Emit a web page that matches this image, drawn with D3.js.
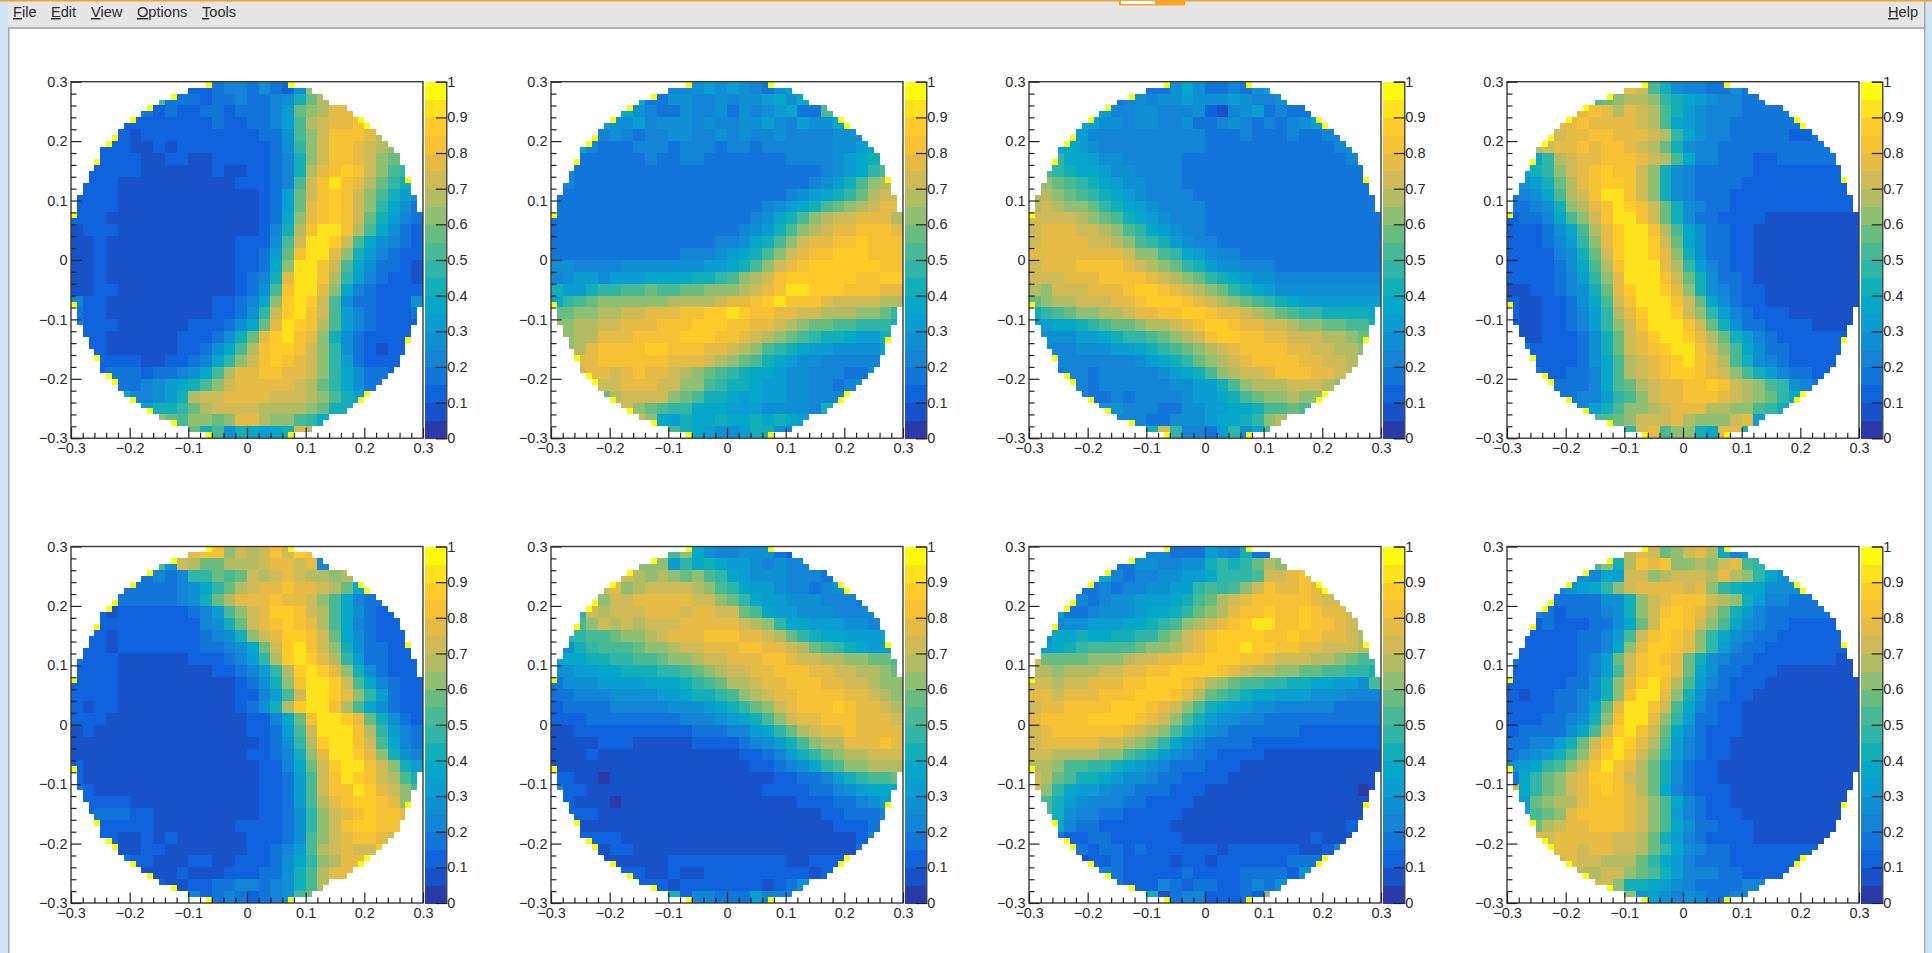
<!DOCTYPE html>
<html><head><meta charset="utf-8">
<style>
html,body{margin:0;padding:0;background:#fff;overflow:hidden}
svg{display:block}
text{font-family:"Liberation Sans",Arial,sans-serif;fill:#2a2a2a}
</style>
<script src="https://cdnjs.cloudflare.com/ajax/libs/d3/7.8.5/d3.min.js"></script>
</head><body><svg id="c" width="1932" height="953"></svg>
<script>
// Levels: one base-20 digit per 2x2 block of bins (0 = 0-0.05 ... j = 0.95-1), top row first.
const panel1=["2234435325c","a333233433458bd","3232233233346bcdff","222222223223346adeffge","2212222222222335acegggfd","222112122222222359ceggfedc","222211221122222348ceggfecb","2222211111121122348dfghgeca9","222111111111122234aegigfdb98","2222111111111111236begh geca865".replace(" ",""),"222211111111111123 6bfghgec9753".replace(" ",""),"2221111111111111237cfghgeb8643","1222111111111111248dgiigda7532","112111111111112225aeiihea75432","112111111111112236bgiifc864322","112111111111112237ciigea753321","112111111111112348fiigd9643221","112211111111112 35agiifc7432222".replace(" ",""),"42211111111122347chihea5332225","32211111111122359ehigea6432223","4222111111222357bfihgda6432222","22111111222358bfhigfc8532222","2211111122357adghhgec9532122","222211223479ceghgfec963222","2333233457adffggffec975332","43345678acefffffedb97533","744568deeffffeeedca863","6889bdeeeeddddcb88","cbaccbcffdcca97","b8a587678ed"];
const panel2=["44565654356","733554454556757","75433544535456733a","6556455545445565465577","345434455445454454444555","74333444344434434444445567","33333343344333333344445678","433333333333333333333345679a","4333333333333333333334568acd","33333333333333333333456789bdee","33333333333333333345678abcdeff","333333333333333334578acdeefffd","33333333333333334568acdeffgggf","3333333333333344578aceffgghggg","333333333334445678acefgghhhggg","55444455555556678acefghhhhhhgg","456656667777889acdeghhhhhhgghh","866899aabaabbcccdefgiihhhgggff","79abccccccddddeffghigggfeeeedd","bbccddeefffgghhihggffeedddccb9","ccddeefffggghhhggffedcbbaa9998","cddfffgggghhhggfedcba9887668","cdfgggghhgggffedca9876655556","ffggggggfffedcba8765544444","effefgffedcba9877655444335","deefffeecca9887665544345","bdeeeecba8876766554445","ecba99777666555548","ec7687787787876","a8765568854"];
const panel3=["33575334356","345455655565445","644554445214563433","7655455445334543434564","664444444444333433343344","77654444444443333333333345","97765544444333333333333334","a98776554444333333333333333","cba9876554443333333333333333","ddcba9876544443333333333333333","dedccb987654444333333333333333","eeeedcba8765444333333333333333","efffeedca976544333333333333333","effffeedca98654433333333333333","ffffffffecca976544333333333333","efffggggfedcb98655444333333333","eeefffggggfedcb987655444444444","dceeefffghhgfedcb9876555555555","bcddeeeffghhhgfedcba9876666666","89abccddeffgghhgffedcba9988887","667789abbcddefghhgffeedccbbaa8","555667899abcdeghhggffeeeddcb","54455566789abcdefggggffeeddc","444444456789bcdefggggffeed","3443444445678acdeefgggffed","64344444455668acdddeeedc","43343444456678abccdcca","55444335566778aaba","4443355567789cd","8e94436957a"];
const panel4=["fea85443353","abcddc987654433","fgfdfeda8654443333","ffgffffeda765443333333","eeffggfffed9754433333223","deffgfggfedb85443333333333","79deffgggfeda7443332233333","789cefghggec8543333322222222","568bdfghhgec8543333222222222","3457adegiigec85433322222222222","33458cdfgihgeb8543322222222222","23347acegiigeb8533222211111111","222357adfhiigda753322111111111","2223469cfhiiheb753322111111111","2222458behiihfc853322111111111","2222357adgiiifd964322111111111","22223469cfiiigeb85332111111111","11223458bfhiihfc85432211111111","21122357aegiiigeb7532211111111","211223469dfhiihec9643222111111","211223469cegiiigeb853322221111","11222358befhiihfdb8643222222","32222358befghiigeca753322222","2222357adefghigfda85432222","3223347adefghhgfeca8643322","333347abdeffgghgedca9543","334469aceffgggfedcb975","468accdefffddcca98","aabceeefdcccef6","9efacc87ff8"];
const panel5=["fggcedegehg","a5edbbdddeffef4","343499babedefeddcd","333334579bdeffgffedb74","333333458bdfffgffeca7433","21222222346acefhhgeda75322","222222222458befghgfda74322","22122222223458cefhhgeb753222","221222222233457behigec853322","32221111112223469dhihfd9633222","222211111111223469dhihfc853222","222211111111112358cgiihea74322","222211111111112246aeiihfc96322","212211111111112358dhiigda7532 2".replace(" ",""),"2221111111111112247bgiihfb8532","1211111111111112236aeiiigd9643","11111111111111112359dhiigea743","11111111111111122348cfiihfc854","21111111111111112247behiigec86","21111111111111112236aegihgeda8","32111111111111112236aeggihfeca","2222111111111112236adfghhgfc","23332211111111122359cefghggf","2222211111112222359ceghhgg","221121211111122235acefggfe","21122111111122346adefeeh","32211122112223579cdffg","11121112223358adff","2112233443458ad","423432345ab"];
const panel6=["ac754455532","ccc697876654544","edcdcbca9765554443","efcdeeeedca97665443455","9ceefffffeecb97665554443","9edeeefffeffeeba7665554444","acededeeefffffedc977666554","99aabccdefffgggffedb98776666","589aaabccdeefffggffedba98766","7778899aabccdeefffggfeeddccbba","55667788899abcdeeffgggffeeddcb","3555666677789abddeffgggffeedcc","334445555667889acdeffggggffedc","23333444445556789bcefggghgffed","222333333334445678aceffgggfffe","11222222222233344679bdeffgffff","111122211111222234568acddfffgf","111211111111111122 34689bcddeee".replace(" ",""),"111111111111111112234579accddd","221101111111111111122334689aabc".slice(0,30),"522111111111111111222233456777","2111011111111111111122233456","2221111111111111111111223334","11111111111111111111112223","22221111111111111111111124","212211111111111111111113","1111112222222222112222","221121122222222212","222122222221235","82443336444"];
const panel7=["44333654833","335544558989bdc","7434455667999aeefg","33434455669a9acegffgfe","44345566678abdefgggggfee","633455567789bcdfgghgghgffe","4556667789acdefghiigghggfe","5778778899bcefghhhhgghggffed","6789aaaabccdefghhihhggffeeed","ebbbbcccdeeffgghhhggfeeeddcbaa","ddcdddeeffgghhhhgfeddccbbaa998","eedeefffgghhhgfdcbaa998877665a","ffefffggghhhgfdba9877666555444","effgggghhhgfeca876655444443333","fgggghhhhgfeca8655443333333333","efggggggfedca86543333332222222","efffffeedcb9754333322222222222","eeddddcca98654332222111111111 1".replace(" ",""),"ddcaa9987654333222111111111111","edba8876554332222111111111111 1".replace(" ","").slice(0,30),"fc976654433322211111111111 1101".replace(" ","").slice(0,30),"a865444332222111111111111111","a854433222221111111111111111","74332222221111111111111112","32233222222111111111112111","232332322222212222221124","1223222212212222223332","432222232222333325","322243233223435","8134422232c"];
const panel8=["dfebcefd745","ac8dgfgccdcefa9","5476eecdeeedfdc975","45679ceffffefc9877555a","33333558cefgggedc8644333","432333458ceghgfdb864333333","232223357behhgeca754332222","222223346aeghgfc975433222222","222223347cfhhgfc964332222222","322222346beghgfb85433222222211","222222346aeghhfb75332221111111","222223358cfhigda64322211111111","212233458cgiifc853322111111111","22223347bfiigea743221111111111","22233458cgiifc9633221111111111","2333357aehigeb7532221111111111","334468begihfda6432211111111111","34568acfhigec96432211111111111","5679acegigfdb85322111111111111","379bcefhhgedb85322111111111111","e79bcefghgfdb74322211111111111","6bcddfgggfeca743221111111111","6abcfggggfeca643222111111111","bdeffgggfeca75332221111111","fefffffeedb864322221111111","gffeffeedb97543322222222","efeedddb97643332222222","ddeecba86444332222","eec887654333344","c5654543344"];
const panels=[panel1,panel2,panel3,panel4,panel5,panel6,panel7,panel8];

// Which bins of each row are filled (top half; the lower half mirrors it)
const rowFirstBin=[23,20,17,15,13,12,10,9,8,7,6,5,5,4,4,3,3,2,2,1,1,1,0,0,0,0,0,0,0,0];
const rowLastBin=[37,40,42,43,46,47,49,50,51,52,53,54,55,55,56,56,57,57,57,58,58,58,59,59,59,59,59,59,59,59];
// Rim bins that read as full yellow in every panel: [row from top, bin]
const rimBins=[[0,23],[0,37],[2,17],[4,13],[6,10],[9,7],[10,6],[13,4],[22,0],[6,49],[7,50],[16,57]];

const axisMajor=[-0.3,-0.2,-0.1,0,0.1,0.2,0.3];
const axisMinor=[-0.28,-0.26,-0.24,-0.22,-0.18,-0.16,-0.14,-0.12,-0.08,-0.06,-0.04,-0.02,0.02,0.04,0.06,0.08,0.12,0.14,0.16,0.18,0.22,0.24,0.26,0.28];
const zTicks=[0,0.1,0.2,0.3,0.4,0.5,0.6,0.7,0.8,0.9,1];
const menuLeft=[["File",13],["Edit",51],["View",91],["Options",137],["Tools",202],["Help",1888]];
// Colour of each of the 20 palette levels, bottom to top
const levelColor=["#2a3aa8","#1752c8","#0f63dc","#1275da","#1384d6","#1090d4","#0a9ed2","#05a8c9","#12afb8","#2fb6a6","#47b995","#68bc80","#8fbf72","#b3bc63","#cfba58","#e6bb45","#f5c233","#fecb28","#fde21c","#fbfb0a"];

const W=352,H=356.5,colsX=[71,551,1029,1507],rowsY=[81.7,546.5],nBins=60,nLevels=levelColor.length;
const svg=d3.select("#c");
const rowOf=r=>r<30?r:59-r;
const firstOf=r=>rowFirstBin[rowOf(r)],lastOf=r=>rowLastBin[rowOf(r)];
const rimSet=new Set(rimBins.flatMap(([r,c])=>[r+"_"+c,(59-r)+"_"+c]));

// window chrome
svg.append("rect").attr("width",1932).attr("height",953).attr("fill","#cfe4f2");
svg.append("rect").attr("x",8).attr("y",1).attr("width",1916).attr("height",952).attr("fill","#fff");
svg.append("rect").attr("x",8).attr("y",1).attr("width",1916).attr("height",26).attr("fill","#e6e6e6");
svg.append("rect").attr("x",8).attr("y",27).attr("width",1916).attr("height",2).attr("fill","#b4b4b4");
svg.append("rect").attr("x",8).attr("y",27).attr("width",1.5).attr("height",926).attr("fill","#a8a8a8");
svg.append("rect").attr("x",1924).attr("y",0).attr("width",1.5).attr("height",953).attr("fill","#a8a8a8");
svg.append("rect").attr("width",1932).attr("height",1.5).attr("fill","#f0a030");
svg.append("rect").attr("x",1119).attr("width",66).attr("height",5.5).attr("fill","#f9a52b");
svg.append("rect").attr("x",1121).attr("y",1).attr("width",34).attr("height",3).attr("fill","#fff");
const menu=svg.append("g").selectAll("text").data(menuLeft).join("text")
  .attr("x",d=>d[1]).attr("y",17).style("font-size","14.6px");
menu.append("tspan").attr("text-decoration","underline").text(d=>d[0][0]);
menu.append("tspan").text(d=>d[0].slice(1));

const tickFmt=d=>d===0?"0":(d===1?"1":d3.format(".1f")(d));

panels.forEach((rows,pi)=>{
  const px=colsX[pi%4],py=rowsY[Math.floor(pi/4)];
  const g=svg.append("g").attr("transform",`translate(${px},${py})`);
  const x=d3.scaleLinear().domain([-0.3,0.3]).range([0,W]);
  const y=d3.scaleLinear().domain([-0.3,0.3]).range([H,0]);
  const bx=d3.scaleLinear().domain([0,nBins]).range([0,W]);
  const by=d3.scaleLinear().domain([0,nBins]).range([0,H]);
  const cells=[];
  for(let r=0;r<nBins;r++){
    const R=Math.floor(r/2),s=rows[R];
    const blockFirst=Math.floor(Math.min(firstOf(2*R),firstOf(2*R+1))/2);
    for(let c=firstOf(r);c<=lastOf(r);c++){
      const i=Math.min(Math.floor(c/2)-blockFirst,s.length-1);
      const lvl=rimSet.has(r+"_"+c)?nLevels-1:parseInt(s[i],20);
      cells.push({r,c,lvl});
    }
  }
  g.append("g").attr("shape-rendering","crispEdges").selectAll("rect").data(cells).join("rect")
    .attr("x",d=>Math.round(px+bx(d.c))-px).attr("y",d=>Math.round(py+by(d.r))-py)
    .attr("width",d=>Math.round(px+bx(d.c+1))-Math.round(px+bx(d.c)))
    .attr("height",d=>Math.round(py+by(d.r+1))-Math.round(py+by(d.r)))
    .attr("fill",d=>levelColor[d.lvl]);
  g.append("rect").attr("width",W).attr("height",H).attr("fill","none").attr("stroke","#3a3a3a").attr("stroke-width",1.4);

  const style=a=>{a.select(".domain").remove();a.selectAll("line").attr("stroke","#222").attr("stroke-width",1.2);};
  // major + minor ticks run inward from the bottom and left frame edges
  g.append("g").attr("transform",`translate(0,${H})`).call(d3.axisTop(x).tickValues(axisMajor).tickSize(10.5).tickFormat("")).call(style);
  g.append("g").attr("transform",`translate(0,${H})`).call(d3.axisTop(x).tickValues(axisMinor).tickSize(5.5).tickFormat("")).call(style);
  g.append("g").call(d3.axisRight(y).tickValues(axisMajor).tickSize(10.5).tickFormat("")).call(style);
  g.append("g").call(d3.axisRight(y).tickValues(axisMinor).tickSize(5.5).tickFormat("")).call(style);
  const xl=g.append("g").attr("transform",`translate(0,${H})`).call(d3.axisBottom(x).tickValues(axisMajor).tickSize(0).tickPadding(5).tickFormat(tickFmt));
  xl.select(".domain").remove(); xl.selectAll("text").style("font-size","14.5px").attr("fill","#2a2a2a").style("font-family",'"Liberation Sans",sans-serif');
  const yl=g.append("g").call(d3.axisLeft(y).tickValues(axisMajor).tickSize(0).tickPadding(3.5).tickFormat(tickFmt));
  yl.select(".domain").remove(); yl.selectAll("text").style("font-size","14.5px").attr("fill","#2a2a2a").style("font-family",'"Liberation Sans",sans-serif');

  // palette
  const zx=W+1.8,zw=21.5;
  const z=d3.scaleLinear().domain([0,1]).range([H,0]);
  g.append("g").attr("shape-rendering","crispEdges").selectAll("rect").data(levelColor).join("rect")
    .attr("x",zx).attr("width",zw).attr("y",(d,i)=>z((i+1)/nLevels)).attr("height",H/nLevels+0.5).attr("fill",d=>d);
  const za=g.append("g").attr("transform",`translate(${zx+zw},0)`).call(d3.axisLeft(z).tickValues(zTicks).tickSize(10.5).tickFormat(""));
  za.select(".domain").attr("stroke","#222").attr("stroke-width",1.2); za.selectAll("line").attr("stroke","#222").attr("stroke-width",1.2);
  const zl=g.append("g").attr("transform",`translate(${zx+zw},0)`).call(d3.axisRight(z).tickValues(zTicks).tickSize(0).tickPadding(1).tickFormat(tickFmt));
  zl.select(".domain").remove(); zl.selectAll("text").style("font-size","14.5px").attr("fill","#2a2a2a").style("font-family",'"Liberation Sans",sans-serif');
});
</script></body></html>
